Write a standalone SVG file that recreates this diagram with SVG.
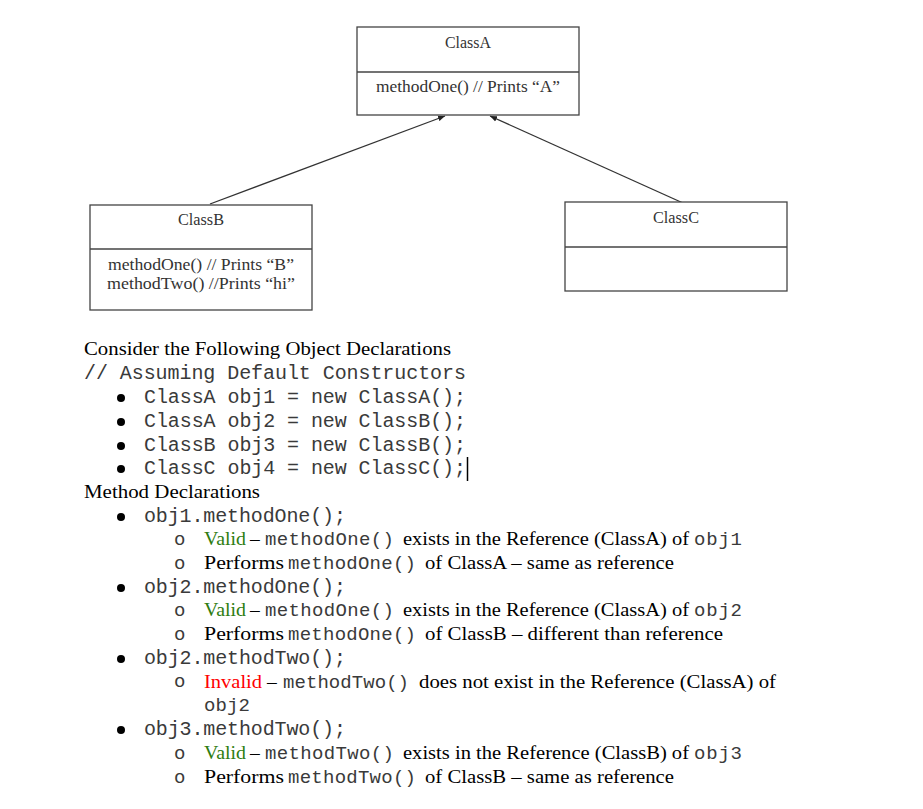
<svg xmlns="http://www.w3.org/2000/svg" width="923" height="809" viewBox="0 0 923 809">
  <defs>
    <marker id="arrow" viewBox="0 0 10 10" refX="10" refY="5" markerWidth="7" markerHeight="7" orient="auto" markerUnits="userSpaceOnUse">
      <path d="M0,1 L10,5 L0,9 z" fill="#222"/>
    </marker>
    <style>
      .box { fill: #fff; stroke: #444; stroke-width: 1.3; }
      .div { stroke: #444; stroke-width: 1.3; }
      .uml { font-family: "Liberation Serif", "DejaVu Serif", serif; font-size: 17.5px; fill: #333; text-anchor: middle; }
      .serif { font-family: "Liberation Serif", "DejaVu Serif", serif; font-size: 19.5px; fill: #000; }
      .mono { font-family: "Liberation Mono", "DejaVu Sans Mono", monospace; font-size: 20px; fill: #3a3a3a; }
      .code { font-family: "Liberation Mono", "DejaVu Sans Mono", monospace; font-size: 19px; fill: #3a3a3a; }
      .conn { stroke: #333; stroke-width: 1.3; fill: none; }
      .valid { fill: #2e7d12; }
      .invalid { fill: #ff0000; }
    </style>
  </defs>

  <rect width="923" height="809" fill="#fff"/>

  <!-- inheritance connectors -->
  <g id="connectors">
    <line class="conn" x1="210" y1="204" x2="445" y2="116" marker-end="url(#arrow)"/>
    <line class="conn" x1="683" y1="203" x2="490" y2="116" marker-end="url(#arrow)"/>
  </g>

  <g id="classA">
    <rect class="box" x="357" y="27" width="222" height="88"/>
    <line class="div" x1="357" y1="72" x2="579" y2="72"/>
    <text class="uml" x="468" y="48" textLength="46" lengthAdjust="spacingAndGlyphs">ClassA</text>
    <text class="uml" x="468" y="92" textLength="184" lengthAdjust="spacingAndGlyphs">methodOne() // Prints “A”</text>
  </g>

  <g id="classB">
    <rect class="box" x="90" y="205" width="222" height="105"/>
    <line class="div" x1="90" y1="249" x2="312" y2="249"/>
    <text class="uml" x="201" y="225" textLength="46" lengthAdjust="spacingAndGlyphs">ClassB</text>
    <text class="uml" x="201" y="270" textLength="186" lengthAdjust="spacingAndGlyphs">methodOne() // Prints “B”</text>
    <text class="uml" x="201" y="289" textLength="188" lengthAdjust="spacingAndGlyphs">methodTwo() //Prints “hi”</text>
  </g>

  <g id="classC">
    <rect class="box" x="565" y="202" width="222" height="89"/>
    <line class="div" x1="565" y1="247" x2="787" y2="247"/>
    <text class="uml" x="676" y="223" textLength="46" lengthAdjust="spacingAndGlyphs">ClassC</text>
  </g>

  <!-- object declarations -->
  <g id="declarations">
    <text class="serif" x="84" y="355" textLength="367" lengthAdjust="spacingAndGlyphs">Consider the Following Object Declarations</text>
    <text class="mono" x="84" y="379" textLength="382">// Assuming Default Constructors</text>
    <g fill="#000">
      <circle cx="121" cy="398" r="4"/>
      <circle cx="121" cy="422" r="4"/>
      <circle cx="121" cy="446" r="4"/>
      <circle cx="121" cy="469" r="4"/>
    </g>
    <text class="mono" x="144" y="403" textLength="322">ClassA obj1 = new ClassA();</text>
    <text class="mono" x="144" y="427" textLength="322">ClassA obj2 = new ClassB();</text>
    <text class="mono" x="144" y="451" textLength="322">ClassB obj3 = new ClassB();</text>
    <text class="mono" x="144" y="474" textLength="322">ClassC obj4 = new ClassC();</text>
    <line x1="467.5" y1="457" x2="467.5" y2="481" stroke="#000" stroke-width="1.5"/>
  </g>

  <!-- method calls and their explanations -->
  <g id="methods">
    <text class="serif" x="84" y="498" textLength="176" lengthAdjust="spacingAndGlyphs">Method Declarations</text>

    <g fill="#000">
      <circle cx="121" cy="517" r="4"/>
      <circle cx="121" cy="588" r="4"/>
      <circle cx="121" cy="659" r="4"/>
      <circle cx="121" cy="730" r="4"/>
    </g>
    <g class="code">
      <text x="174" y="545">o</text>
      <text x="174" y="569">o</text>
      <text x="174" y="616">o</text>
      <text x="174" y="640">o</text>
      <text x="174" y="687">o</text>
      <text x="174" y="759">o</text>
      <text x="174" y="783">o</text>
    </g>

    <!-- obj1.methodOne() -->
    <text class="mono" x="144" y="522" textLength="202">obj1.methodOne();</text>
    <text class="serif valid" x="204" y="545" textLength="42" lengthAdjust="spacingAndGlyphs">Valid</text>
    <text class="serif" x="250" y="545">–</text>
    <text class="code" x="265" y="545" textLength="129">methodOne()</text>
    <text class="serif" x="403" y="545" textLength="286" lengthAdjust="spacingAndGlyphs">exists in the Reference (ClassA) of</text>
    <text class="code" x="694" y="545" textLength="48">obj1</text>

    <text class="serif" x="204" y="569" textLength="80" lengthAdjust="spacingAndGlyphs">Performs</text>
    <text class="code" x="288" y="569" textLength="128">methodOne()</text>
    <text class="serif" x="425" y="569" textLength="249" lengthAdjust="spacingAndGlyphs">of ClassA – same as reference</text>

    <!-- obj2.methodOne() -->
    <text class="mono" x="144" y="593" textLength="202">obj2.methodOne();</text>
    <text class="serif valid" x="204" y="616" textLength="42" lengthAdjust="spacingAndGlyphs">Valid</text>
    <text class="serif" x="250" y="616">–</text>
    <text class="code" x="265" y="616" textLength="129">methodOne()</text>
    <text class="serif" x="403" y="616" textLength="286" lengthAdjust="spacingAndGlyphs">exists in the Reference (ClassA) of</text>
    <text class="code" x="694" y="616" textLength="48">obj2</text>

    <text class="serif" x="204" y="640" textLength="80" lengthAdjust="spacingAndGlyphs">Performs</text>
    <text class="code" x="288" y="640" textLength="128">methodOne()</text>
    <text class="serif" x="425" y="640" textLength="298" lengthAdjust="spacingAndGlyphs">of ClassB – different than reference</text>

    <!-- obj2.methodTwo() -->
    <text class="mono" x="144" y="664" textLength="202">obj2.methodTwo();</text>
    <text class="serif invalid" x="204" y="688" textLength="58" lengthAdjust="spacingAndGlyphs">Invalid</text>
    <text class="serif" x="267" y="688">–</text>
    <text class="code" x="283" y="688" textLength="126">methodTwo()</text>
    <text class="serif" x="419" y="688" textLength="357" lengthAdjust="spacingAndGlyphs">does not exist in the Reference (ClassA) of</text>
    <text class="code" x="204" y="711" textLength="46">obj2</text>

    <!-- obj3.methodTwo() -->
    <text class="mono" x="144" y="735" textLength="202">obj3.methodTwo();</text>
    <text class="serif valid" x="204" y="759" textLength="42" lengthAdjust="spacingAndGlyphs">Valid</text>
    <text class="serif" x="250" y="759">–</text>
    <text class="code" x="265" y="759" textLength="129">methodTwo()</text>
    <text class="serif" x="403" y="759" textLength="286" lengthAdjust="spacingAndGlyphs">exists in the Reference (ClassB) of</text>
    <text class="code" x="694" y="759" textLength="48">obj3</text>

    <text class="serif" x="204" y="783" textLength="80" lengthAdjust="spacingAndGlyphs">Performs</text>
    <text class="code" x="288" y="783" textLength="128">methodTwo()</text>
    <text class="serif" x="425" y="783" textLength="249" lengthAdjust="spacingAndGlyphs">of ClassB – same as reference</text>
  </g>
</svg>
